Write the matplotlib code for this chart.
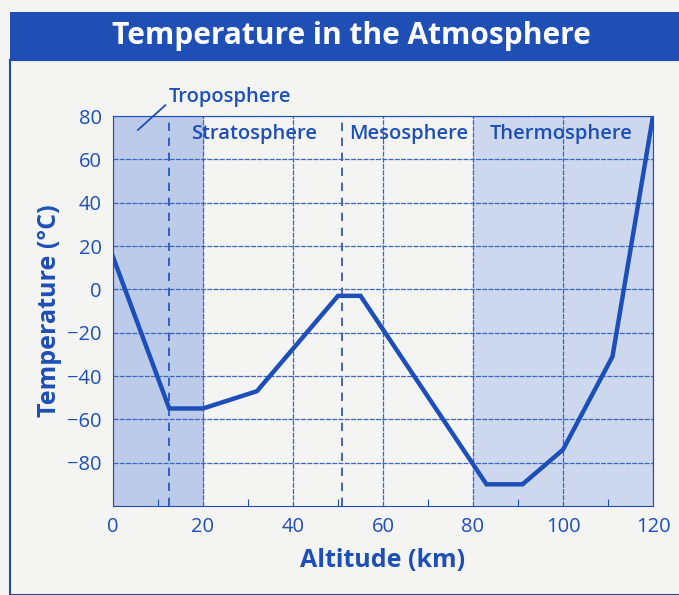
import matplotlib.pyplot as plt
from matplotlib.patches import Rectangle

# data
altitude = [0, 12.5, 20, 32, 50, 55, 83, 91, 100, 111, 120]
temperature = [15, -55, -55, -47, -3, -3, -90, -90, -74, -31, 80]
layer_bounds = [12.5, 51]
layer_names = ['Stratosphere', 'Mesosphere', 'Thermosphere']
layer_label_x = [31.3, 65.8, 99.6]
x_ticks = [0, 20, 40, 60, 80, 100, 120]
y_ticks = [-80, -60, -40, -20, 0, 20, 40, 60, 80]

blue = '#1d4fb8'
plt.rcParams['font.family'] = ['Open Sans', 'DejaVu Sans']

fig = plt.figure(figsize=(6.79, 5.95), dpi=100)
fig.patch.set_facecolor('#f4f4f2')

# title bar and frame
fig.patches.append(Rectangle((0.015, 0.0), 1.0, 0.9, transform=fig.transFigure,
                             fill=False, edgecolor=blue, lw=1.5))
fig.patches.append(Rectangle((0.015, 0.9), 1.0, 0.08, transform=fig.transFigure,
                             facecolor='#1f4fb5', edgecolor='none'))
fig.text(0.518, 0.94, 'Temperature in the Atmosphere', color='white', fontsize=21.5,
         fontweight='bold', ha='center', va='center')

ax = fig.add_axes([0.1664, 0.1496, 0.7953, 0.6554])
ax.set_facecolor('#f4f4f2')
ax.axvspan(0, 20, color='#bccbe9', zorder=0)
ax.axvspan(80, 120, color='#cdd8ef', zorder=0)

for xb in layer_bounds:
    ax.axvline(xb, color=blue, ls=(0, (5, 4)), lw=1.2, zorder=1)

ax.plot(altitude, temperature, color=blue, lw=3.2, solid_joinstyle='miter', zorder=3)

ax.set_xlim(0, 120)
ax.set_ylim(-100, 80)
ax.set_xticks(x_ticks)
ax.set_yticks(y_ticks)
ax.set_yticklabels([str(v).replace('-', '\u2212') for v in y_ticks])
ax.set_xticks([10, 30, 50, 70, 90, 110], minor=True)
ax.grid(True, color='#3a66c4', lw=0.9, ls=(0, (4, 1)))
ax.tick_params(axis='both', which='major', length=0, labelsize=14.5, labelcolor=blue, pad=8)
ax.tick_params(axis='x', which='minor', direction='in', length=5, color=blue, width=0.8)
for s in ax.spines.values():
    s.set_color(blue)
    s.set_linewidth(0.8)

ax.set_xlabel('Altitude (km)', color=blue, fontsize=18, fontweight='bold', labelpad=8)
ax.set_ylabel('Temperature (\u00b0C)', color=blue, fontsize=18, fontweight='bold', labelpad=4)

for name, lx in zip(layer_names, layer_label_x):
    ax.text(lx, 71.5, name, color=blue, fontsize=14.5, fontweight='semibold',
            ha='center', va='center', zorder=4)

ax.annotate('Troposphere', xy=(5.5, 73.5), xytext=(12.3, 89), color=blue, fontsize=14.5,
            fontweight='semibold', ha='left', va='center', annotation_clip=False,
            arrowprops=dict(arrowstyle='-', color=blue, lw=1.3, shrinkA=0, shrinkB=0,
                            relpos=(0, 0.2)))

fig.savefig('out.png', dpi=100, facecolor=fig.get_facecolor())
